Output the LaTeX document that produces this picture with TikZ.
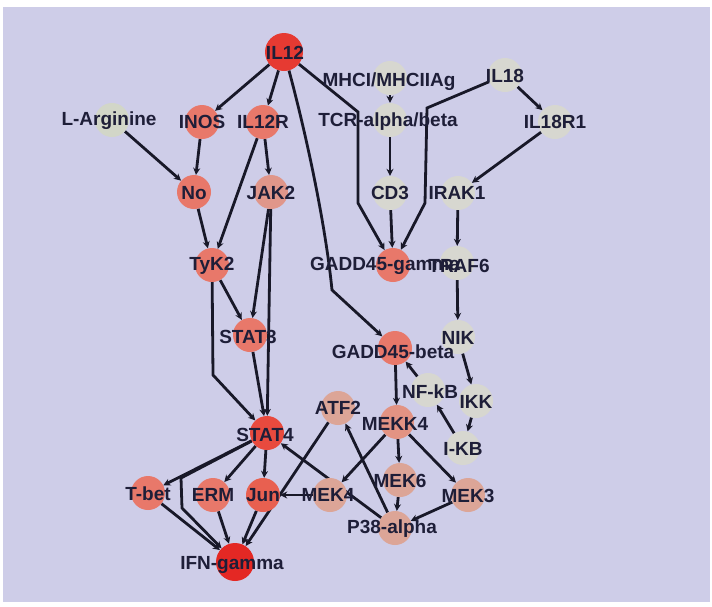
\documentclass[tikz,border=0pt]{standalone}
\usepackage{fontspec}
\setmainfont{Liberation Sans}
\usetikzlibrary{arrows.meta}
\pgfdeclarelayer{bglayer}
\pgfdeclarelayer{edgelayer}
\pgfdeclarelayer{textlayer}
\pgfsetlayers{bglayer,edgelayer,main,textlayer}
\definecolor{bgc}{RGB}{206,205,232}
\definecolor{txt}{RGB}{30,30,56}
\definecolor{edgec}{RGB}{24,24,40}
\definecolor{cred}{RGB}{230,58,50}
\definecolor{cifn}{RGB}{228,40,36}
\definecolor{cstat}{RGB}{232,74,62}
\definecolor{csal}{RGB}{232,120,106}
\definecolor{cjak}{RGB}{224,150,138}
\definecolor{cjun}{RGB}{232,96,80}
\definecolor{clt}{RGB}{220,165,151}
\definecolor{cmekk}{RGB}{227,147,131}
\definecolor{cgray}{RGB}{215,215,208}
\definecolor{carg}{RGB}{210,214,200}
\begin{document}
\begin{tikzpicture}[x=1pt,y=-1pt,
  nd/.style={circle,minimum size=34pt,inner sep=0pt,draw=none},
  big/.style={minimum size=38pt},
  lb/.style={font=\bfseries\fontsize{19}{19}\selectfont,text=txt,inner sep=0pt},
  edge/.style={draw=edgec,line width=2.8pt,-{Stealth[length=7pt,width=7pt]}}]
\begin{pgfonlayer}{bglayer}
\fill[white] (0,0) rectangle (712,606);
\fill[bgc] (3,7) rectangle (710,602);
\end{pgfonlayer}
\useasboundingbox (0,0) rectangle (712,606);
% circles
\node[nd,big,fill=cred] (IL12) at (284,52) {};
\node[nd,fill=cgray] (MHCI) at (390,78) {};
\node[nd,fill=cgray] (IL18) at (505,75) {};
\node[nd,fill=carg] (LArg) at (112,120) {};
\node[nd,fill=csal] (INOS) at (202,122) {};
\node[nd,fill=csal] (IL12R) at (263,122) {};
\node[nd,fill=cgray] (TCR) at (390,120) {};
\node[nd,fill=cgray] (IL18R1) at (555,122) {};
\node[nd,fill=csal] (No) at (194,192) {};
\node[nd,fill=cjak] (JAK2) at (271,192) {};
\node[nd,fill=cgray] (CD3) at (390,193) {};
\node[nd,fill=cgray] (IRAK1) at (458,193) {};
\node[nd,fill=csal] (TyK2) at (212,265) {};
\node[nd,fill=csal] (GADDg) at (393,265) {};
\node[nd,fill=cgray] (TRAF6) at (457,263) {};
\node[nd,fill=csal] (STAT3) at (250,335) {};
\node[nd,fill=cgray] (NIK) at (458,337) {};
\node[nd,fill=csal] (GADDb) at (395,348) {};
\node[nd,fill=cgray] (NFkB) at (428,390) {};
\node[nd,fill=cgray] (IKK) at (476,401) {};
\node[nd,fill=clt] (ATF2) at (338,408) {};
\node[nd,fill=cmekk] (MEKK4) at (397,422) {};
\node[nd,fill=cstat] (STAT4) at (267,433) {};
\node[nd,fill=cgray] (IKB) at (463,448) {};
\node[nd,fill=clt] (MEK6) at (400,480) {};
\node[nd,fill=csal] (Tbet) at (148,493) {};
\node[nd,fill=csal] (ERM) at (213,495) {};
\node[nd,fill=cjun] (Jun) at (263,495) {};
\node[nd,fill=clt] (MEK4) at (330,495) {};
\node[nd,fill=clt] (MEK3) at (468,495) {};
\node[nd,fill=clt] (P38) at (395,528) {};
\node[nd,big,fill=cifn] (IFN) at (235,562) {};
% labels
\begin{pgfonlayer}{textlayer}
\node[lb] (tIL12) at (285,53) {IL12};
\node[lb] (tMHCI) at (389,82) {MHCI/MHCIIAg};
\node[lb] (tIL18) at (505,76) {IL18};
\node[lb] (tLArg) at (109,121) {L-Arginine};
\node[lb] (tINOS) at (202,122) {INOS};
\node[lb] (tIL12R) at (263,122) {IL12R};
\node[lb] (tTCR) at (388,122) {TCR-alpha/beta};
\node[lb] (tIL18R1) at (555,122) {IL18R1};
\node[lb] (tNo) at (194,193) {No};
\node[lb] (tJAK2) at (271,193) {JAK2};
\node[lb] (tCD3) at (390,193) {CD3};
\node[lb] (tIRAK1) at (457,193) {IRAK1};
\node[lb] (tTyK2) at (212,266) {TyK2};
\node[lb] (tGADDg) at (385,266) {GADD45-gamma};
\node[lb] (tTRAF6) at (459,266) {TRAF6};
\node[lb] (tSTAT3) at (248,337) {STAT3};
\node[lb] (tNIK) at (458,338) {NIK};
\node[lb] (tGADDb) at (393,352) {GADD45-beta};
\node[lb] (tNFkB) at (430,392) {NF-kB};
\node[lb] (tIKK) at (476,402) {IKK};
\node[lb] (tATF2) at (338,408) {ATF2};
\node[lb] (tMEKK4) at (395,424) {MEKK4};
\node[lb] (tSTAT4) at (265,435) {STAT4};
\node[lb] (tIKB) at (463,449) {I-KB};
\node[lb] (tMEK6) at (400,481) {MEK6};
\node[lb] (tTbet) at (148,494) {T-bet};
\node[lb] (tERM) at (213,495) {ERM};
\node[lb] (tJun) at (263,495) {Jun};
\node[lb] (tMEK4) at (328,495) {MEK4};
\node[lb] (tMEK3) at (468,496) {MEK3};
\node[lb] (tP38) at (392,529) {P38-alpha};
\node[lb] (tIFN) at (232,565) {IFN-gamma};
\end{pgfonlayer}
% edges
\begin{pgfonlayer}{edgelayer}
\draw[edge] (IL12) -- (INOS);
\draw[edge] (IL12) -- (IL12R);
\draw[edge] (IL12) -- (358,112) -- (358,203) -- (GADDg);
\draw[edge] (IL12) .. controls (305,130) and (325,220) .. (332,290) -- (GADDb);
\draw[edge] (LArg) -- (No);
\draw[edge] (INOS) -- (No);
\draw[edge] (IL12R) -- (TyK2);
\draw[edge] (IL12R) -- (JAK2);
\draw[edge] (No) -- (TyK2);
\draw[edge] (JAK2) -- (STAT3);
\draw[edge] (JAK2) -- (STAT4);
\draw[edge] (TyK2) -- (STAT3);
\draw[edge] (TyK2) -- (213,375) -- (STAT4);
\draw[edge] (STAT3) -- (STAT4);
\draw[edge] (MHCI) -- (TCR);
\draw[edge] (TCR) -- (CD3);
\draw[edge] (CD3) -- (GADDg);
\draw[edge] (IL18) -- (427,108) -- (425,203) -- (GADDg);
\draw[edge] (IL18) -- (IL18R1);
\draw[edge] (IL18R1) -- (IRAK1);
\draw[edge] (IRAK1) -- (TRAF6);
\draw[edge] (TRAF6) -- (NIK);
\draw[edge] (NIK) -- (IKK);
\draw[edge] (NFkB) -- (GADDb);
\draw[edge] (GADDb) -- (MEKK4);
\draw[edge] (IKK) -- (IKB);
\draw[edge] (IKB) -- (NFkB);
\draw[edge] (MEKK4) -- (MEK4);
\draw[edge] (MEKK4) -- (MEK6);
\draw[edge] (MEKK4) -- (MEK3);
\draw[edge] (MEK6) -- (P38);
\draw[edge] (MEK3) -- (P38);
\draw[edge] (P38) -- (STAT4);
\draw[edge] (P38) -- (ATF2);
\draw[edge] (ATF2) -- (IFN);
\draw[edge] (MEK4) -- (Jun);
\draw[edge] (STAT4) -- (Tbet);
\draw[edge] (STAT4) -- (ERM);
\draw[edge] (STAT4) -- (Jun);
\draw[edge] (STAT4) -- (181,478) -- (182,508) -- (IFN);
\draw[edge] (Tbet) -- (IFN);
\draw[edge] (ERM) -- (IFN);
\draw[edge] (Jun) -- (IFN);
\end{pgfonlayer}
\end{tikzpicture}
\end{document}
